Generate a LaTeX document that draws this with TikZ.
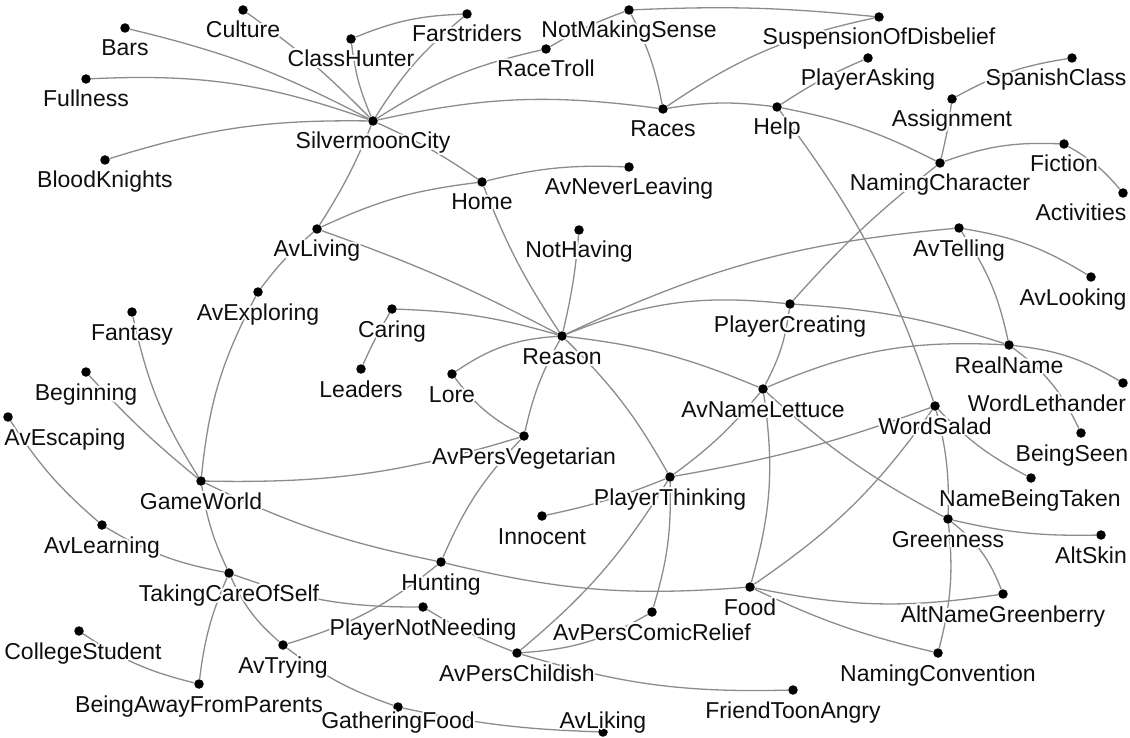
\documentclass[tikz,border=0pt]{standalone}
\usepackage{fontspec}
\setmainfont{Liberation Sans}
\definecolor{linkgray}{RGB}{140,140,140}
\definecolor{labelink}{RGB}{15,15,15}
% white copies behind a label, so links seem to pass beneath the text
\newcommand\hcopy[3]{\rlap{\kern#1\raisebox{#2}{\textcolor{white}{#3}}}}
\newcommand\halo[1]{%
  \hcopy{2pt}{0pt}{#1}\hcopy{-2pt}{0pt}{#1}%
  \hcopy{0pt}{2pt}{#1}\hcopy{0pt}{-2pt}{#1}%
  \hcopy{1.4pt}{1.4pt}{#1}\hcopy{-1.4pt}{1.4pt}{#1}%
  \hcopy{1.4pt}{-1.4pt}{#1}\hcopy{-1.4pt}{-1.4pt}{#1}%
  #1}
\tikzset{
  dotnode/.style={circle,fill=black,inner sep=0pt,minimum size=9.5pt},
  lbl/.style={anchor=base,inner sep=0pt,font=\fontsize{23}{27}\selectfont,text=labelink},
  link/.style={draw=linkgray,line width=1.3pt},
}
% \vertex{name}{x}{y}: a dot; \vlabel{name}{x}{baseline y}: its caption
\newcommand\vertex[3]{\node[dotnode] (#1) at (#2,-#3) {};}
\newcommand\vlabel[3]{\node[lbl] (#1-lbl) at (#2,-#3) {\halo{#1}};}
\begin{document}
\begin{tikzpicture}[x=1pt,y=1pt]
\useasboundingbox[fill=white] (0,0) rectangle (1130,-738);
% vertices
\vertex{Bars}{125}{28}
\vertex{Culture}{243}{10}
\vertex{ClassHunter}{351}{39}
\vertex{Farstriders}{467}{14}
\vertex{NotMakingSense}{629}{10}
\vertex{RaceTroll}{546}{49}
\vertex{SuspensionOfDisbelief}{879}{17}
\vertex{PlayerAsking}{868}{58}
\vertex{SpanishClass}{1072}{58}
\vertex{Fullness}{86}{79}
\vertex{Assignment}{952}{99}
\vertex{Help}{777}{107}
\vertex{Races}{663}{109}
\vertex{SilvermoonCity}{373}{121}
\vertex{Fiction}{1064}{144}
\vertex{BloodKnights}{105}{160}
\vertex{NamingCharacter}{940}{163}
\vertex{AvNeverLeaving}{629}{167}
\vertex{Home}{482}{182}
\vertex{Activities}{1123}{193}
\vertex{AvTelling}{959}{228}
\vertex{AvLiving}{317}{229}
\vertex{NotHaving}{579}{230}
\vertex{AvLooking}{1091}{277}
\vertex{AvExploring}{258}{292}
\vertex{PlayerCreating}{790}{304}
\vertex{Caring}{392}{309}
\vertex{Fantasy}{132}{312}
\vertex{Reason}{562}{336}
\vertex{RealName}{1009}{345}
\vertex{Leaders}{361}{369}
\vertex{Beginning}{86}{372}
\vertex{Lore}{452}{374}
\vertex{WordLethander}{1123}{383}
\vertex{AvNameLettuce}{763}{389}
\vertex{WordSalad}{935}{406}
\vertex{AvEscaping}{8}{417}
\vertex{BeingSeen}{1081}{433}
\vertex{AvPersVegetarian}{524}{436}
\vertex{PlayerThinking}{670}{477}
\vertex{NameBeingTaken}{1031}{478}
\vertex{GameWorld}{201}{481}
\vertex{Innocent}{542}{516}
\vertex{Greenness}{948}{519}
\vertex{AvLearning}{102}{525}
\vertex{AltSkin}{1101}{535}
\vertex{Hunting}{441}{562}
\vertex{TakingCareOfSelf}{229}{573}
\vertex{Food}{750}{587}
\vertex{AltNameGreenberry}{1003}{594}
\vertex{PlayerNotNeeding}{423}{607}
\vertex{AvPersComicRelief}{652}{612}
\vertex{CollegeStudent}{79}{631}
\vertex{AvTrying}{283}{645}
\vertex{AvPersChildish}{517}{653}
\vertex{NamingConvention}{938}{653}
\vertex{BeingAwayFromParents}{199}{684}
\vertex{FriendToonAngry}{793}{690}
\vertex{GatheringFood}{398}{707}
\vertex{AvLiking}{603}{732}
% links
\draw[link] (Bars) to[bend left=7] (SilvermoonCity);
\draw[link] (Culture) to[bend left=5] (SilvermoonCity);
\draw[link] (ClassHunter) to[bend right=8] (SilvermoonCity);
\draw[link] (ClassHunter) to[bend left=10] (Farstriders);
\draw[link] (Farstriders) to[bend right=9] (SilvermoonCity);
\draw[link] (SilvermoonCity) to[bend left=10] (RaceTroll);
\draw[link] (RaceTroll) to[bend left=5] (NotMakingSense);
\draw[link] (NotMakingSense) to[bend left=4] (SuspensionOfDisbelief);
\draw[link] (SilvermoonCity) to[bend left=10] (Races);
\draw[link] (Races) to[bend left=8] (Help);
\draw[link] (Help) to[bend left=8] (NamingCharacter);
\draw[link] (SilvermoonCity) to[bend left=5] (Home);
\draw[link] (SilvermoonCity) to[bend left=5] (AvLiving);
\draw[link] (Fullness) to[bend left=11] (SilvermoonCity);
\draw[link] (BloodKnights) to[bend left=9] (SilvermoonCity);
\draw[link] (Home) to[bend left=8] (AvNeverLeaving);
\draw[link] (AvLiving) to[bend left=9] (Home);
\draw[link] (Home) to[bend right=6] (Reason);
\draw[link] (AvLiving) to[bend left=4] (Reason);
\draw[link] (AvExploring) to[bend left=6] (AvLiving);
\draw[link] (AvExploring) to[bend right=11] (GameWorld);
\draw[link] (Fantasy) to[bend right=10] (GameWorld);
\draw[link] (Beginning) to[bend right=4] (GameWorld);
\draw[link] (GameWorld) to[bend right=9] (AvPersVegetarian);
\draw[link] (GameWorld) to[bend right=8] (TakingCareOfSelf);
\draw[link] (GameWorld) to[bend right=7] (Hunting);
\draw[link] (Hunting) to[bend right=9] (Food);
\draw[link] (AvEscaping) to[bend right=8] (AvLearning);
\draw[link] (AvLearning) to[bend right=10] (TakingCareOfSelf);
\draw[link] (TakingCareOfSelf) to[bend right=10] (PlayerNotNeeding);
\draw[link] (PlayerNotNeeding) to[bend right=5] (AvPersChildish);
\draw[link] (AvPersChildish) to[bend right=9] (FriendToonAngry);
\draw[link] (TakingCareOfSelf) to[bend right=8] (BeingAwayFromParents);
\draw[link] (TakingCareOfSelf) to[bend right=12] (AvTrying);
\draw[link] (CollegeStudent) to[bend right=10] (BeingAwayFromParents);
\draw[link] (AvTrying) to[bend right=11] (Hunting);
\draw[link] (AvTrying) to[bend right=9] (GatheringFood);
\draw[link] (GatheringFood) to[bend right=5] (AvLiking);
\draw[link] (Reason) to[bend right=4] (NotHaving);
\draw[link] (Caring) to[bend left=7] (Reason);
\draw[link] (Caring) to[bend right=3] (Leaders);
\draw[link] (Lore) to[bend left=15] (Reason);
\draw[link] (Lore) to[bend right=12] (AvPersVegetarian);
\draw[link] (Reason) to[bend right=8] (AvPersVegetarian);
\draw[link] (Reason) to[bend left=8] (PlayerThinking);
\draw[link] (Reason) to[bend left=8] (AvNameLettuce);
\draw[link] (Reason) to[bend left=14] (PlayerCreating);
\draw[link] (PlayerCreating) to[bend left=7] (RealName);
\draw[link] (RealName) to[bend left=12] (WordLethander);
\draw[link] (Reason) to[bend left=10] (AvTelling);
\draw[link] (AvTelling) to[bend left=11] (AvLooking);
\draw[link] (AvTelling) to[bend left=11] (RealName);
\draw[link] (RealName) to[bend left=14] (BeingSeen);
\draw[link] (AvNameLettuce) to[bend left=13] (RealName);
\draw[link] (PlayerCreating) to[bend left=10] (AvNameLettuce);
\draw[link] (PlayerCreating) to[bend left=5] (NamingCharacter);
\draw[link] (NamingCharacter) to[bend right=3] (Assignment);
\draw[link] (Assignment) to[bend left=10] (SpanishClass);
\draw[link] (NamingCharacter) to[bend left=11] (Fiction);
\draw[link] (Fiction) to[bend left=10] (Activities);
\draw[link] (Help) to[bend left=5] (PlayerAsking);
\draw[link] (Help) to[bend left=9] (WordSalad);
\draw[link] (Races) to[bend right=8] (NotMakingSense);
\draw[link] (Races) to[bend left=11] (SuspensionOfDisbelief);
\draw[link] (WordSalad) to[bend left=5] (PlayerThinking);
\draw[link] (WordSalad) to[bend right=9] (NameBeingTaken);
\draw[link] (WordSalad) to[bend left=10] (Food);
\draw[link] (WordSalad) to[bend left=8] (Greenness);
\draw[link] (Greenness) to[bend left=10] (NamingConvention);
\draw[link] (AvNameLettuce) to[bend right=7] (Greenness);
\draw[link] (Greenness) to[bend right=7] (AltSkin);
\draw[link] (Greenness) to[bend left=15] (AltNameGreenberry);
\draw[link] (Food) to[bend right=10] (AltNameGreenberry);
\draw[link] (Food) to[bend right=6] (NamingConvention);
\draw[link] (AvNameLettuce) to[bend left=12] (Food);
\draw[link] (PlayerThinking) to[bend left=9] (AvPersComicRelief);
\draw[link] (AvPersComicRelief) to[bend left=13] (AvPersChildish);
\draw[link] (AvPersChildish) to[bend right=9] (PlayerThinking);
\draw[link] (Innocent) to[bend right=5] (PlayerThinking);
\draw[link] (PlayerThinking) to[bend right=7] (AvNameLettuce);
\draw[link] (Hunting) to[bend left=10] (AvPersVegetarian);
% captions
\vlabel{Bars}{125}{56}
\vlabel{Culture}{243}{38}
\vlabel{ClassHunter}{351}{67}
\vlabel{Farstriders}{467}{42}
\vlabel{NotMakingSense}{629}{38}
\vlabel{RaceTroll}{546}{77}
\vlabel{SuspensionOfDisbelief}{879}{45}
\vlabel{PlayerAsking}{868}{86}
\vlabel{SpanishClass}{1056}{86}
\vlabel{Fullness}{86}{107}
\vlabel{Assignment}{952}{127}
\vlabel{Help}{777}{135}
\vlabel{Races}{663}{137}
\vlabel{SilvermoonCity}{373}{149}
\vlabel{Fiction}{1064}{172}
\vlabel{BloodKnights}{105}{188}
\vlabel{NamingCharacter}{940}{191}
\vlabel{AvNeverLeaving}{629}{195}
\vlabel{Home}{482}{210}
\vlabel{Activities}{1081}{221}
\vlabel{AvTelling}{959}{256}
\vlabel{AvLiving}{317}{257}
\vlabel{NotHaving}{579}{258}
\vlabel{AvLooking}{1073}{305}
\vlabel{AvExploring}{258}{320}
\vlabel{PlayerCreating}{790}{332}
\vlabel{Caring}{392}{337}
\vlabel{Fantasy}{132}{340}
\vlabel{Reason}{562}{364}
\vlabel{RealName}{1009}{373}
\vlabel{Leaders}{361}{397}
\vlabel{Beginning}{86}{400}
\vlabel{Lore}{452}{402}
\vlabel{WordLethander}{1047}{411}
\vlabel{AvNameLettuce}{763}{417}
\vlabel{WordSalad}{935}{434}
\vlabel{AvEscaping}{65}{445}
\vlabel{BeingSeen}{1072}{461}
\vlabel{AvPersVegetarian}{524}{464}
\vlabel{PlayerThinking}{670}{505}
\vlabel{NameBeingTaken}{1030}{506}
\vlabel{GameWorld}{201}{509}
\vlabel{Innocent}{542}{544}
\vlabel{Greenness}{948}{547}
\vlabel{AvLearning}{102}{553}
\vlabel{AltSkin}{1091}{563}
\vlabel{Hunting}{441}{590}
\vlabel{TakingCareOfSelf}{229}{601}
\vlabel{Food}{750}{615}
\vlabel{AltNameGreenberry}{1003}{622}
\vlabel{PlayerNotNeeding}{423}{635}
\vlabel{AvPersComicRelief}{652}{640}
\vlabel{CollegeStudent}{83}{659}
\vlabel{AvTrying}{283}{673}
\vlabel{AvPersChildish}{517}{681}
\vlabel{NamingConvention}{938}{681}
\vlabel{BeingAwayFromParents}{199}{712}
\vlabel{FriendToonAngry}{793}{718}
\vlabel{GatheringFood}{398}{728}
\vlabel{AvLiking}{603}{728}
\end{tikzpicture}
\end{document}
